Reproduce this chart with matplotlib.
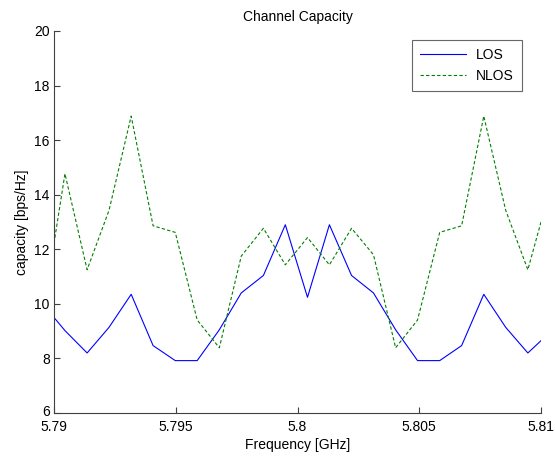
import matplotlib
matplotlib.use("Agg")
import matplotlib.pyplot as plt
import matplotlib.transforms as mtransforms

plt.rcParams['font.family'] = ['Liberation Sans', 'DejaVu Sans']

freq = [5.79, 5.79045, 5.79136, 5.79226, 5.79317, 5.79407, 5.79498, 5.79588,
        5.79679, 5.79769, 5.79860, 5.79950, 5.80041, 5.80131, 5.80222,
        5.80312, 5.80403, 5.80493, 5.80584, 5.80674, 5.80765, 5.80855,
        5.80946, 5.81]
los = [9.50, 9.02, 8.20, 9.14, 10.35, 8.47, 7.92, 7.92, 9.05, 10.40, 11.04,
       12.90, 10.24, 12.90, 11.04, 10.40, 9.05, 7.92, 7.92, 8.47, 10.35,
       9.14, 8.20, 8.65]
nlos = [12.22, 14.77, 11.25, 13.43, 16.88, 12.86, 12.62, 9.41, 8.39, 11.75,
        12.77, 11.43, 12.43, 11.43, 12.77, 11.80, 8.39, 9.41, 12.62, 12.86,
        16.88, 13.43, 11.25, 13.00]

xticks = [5.79, 5.795, 5.8, 5.805, 5.81]
xticklabels = ["5.79", "5.795", "5.8", "5.805", "5.81"]
yticks = [6, 8, 10, 12, 14, 16, 18, 20]

fig = plt.figure(figsize=(5.55, 4.59), dpi=100)
ax = fig.add_axes([54/555, 46/459, 487/555, 382/459])

ax.plot(freq, los, color=(0, 0, 1), lw=0.8, label="LOS")
ax.plot(freq, nlos, color=(0, 0.5, 0), lw=0.8, ls=(0, (3, 2)), label="NLOS")

ax.set_xlim(5.79, 5.81)
ax.set_ylim(6, 20)
ax.set_xticks(xticks)
ax.set_xticklabels(xticklabels)
ax.set_yticks(yticks)

for s in ["top", "right"]:
    ax.spines[s].set_visible(False)
for s in ["left", "bottom"]:
    ax.spines[s].set_color("#404040")
    ax.spines[s].set_linewidth(0.8)
ax.tick_params(direction="in", length=4, width=0.8, color="#404040",
               labelsize=10)
ax.tick_params(axis="x", pad=5)
ax.tick_params(axis="y", pad=3)

# nudge the lowest y label up slightly so it doesn't collide with "5.79"
lbl = ax.get_yticklabels()[0]
lbl.set_transform(lbl.get_transform() +
                  mtransforms.ScaledTranslation(0, 2/100, fig.dpi_scale_trans))

ax.set_title("Channel Capacity", fontsize=10, pad=7)
ax.set_xlabel("Frequency [GHz]", fontsize=10, labelpad=3)
ax.set_ylabel("capacity [bps/Hz]", fontsize=10, labelpad=4)

leg = ax.legend(loc="upper right", bbox_to_anchor=(0.961, 0.977),
                fontsize=10, frameon=True, fancybox=False,
                edgecolor="#404040", handlelength=3.3, borderpad=0.6,
                labelspacing=0.5, handletextpad=0.7, borderaxespad=0)
leg.get_frame().set_linewidth(0.8)

fig.savefig("out.png", dpi=100)
